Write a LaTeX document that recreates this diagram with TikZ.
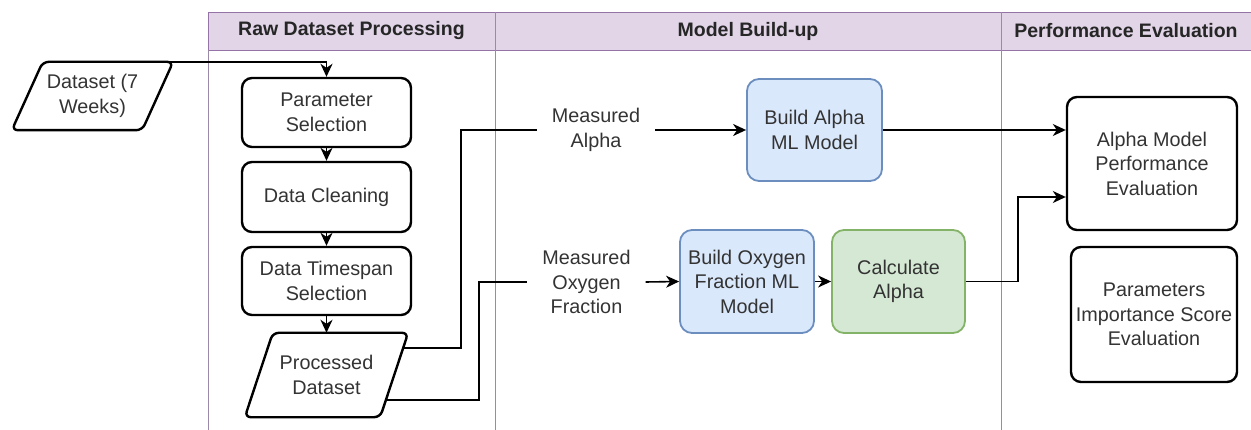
\documentclass[tikz,border=0pt]{standalone}
\usepackage{fontspec}
\setmainfont{Liberation Sans}
\usetikzlibrary{arrows.meta,calc}
\definecolor{hdrfill}{HTML}{E1D5E7}
\definecolor{hdrline}{HTML}{9673A6}
\definecolor{laneline}{HTML}{9A8AA8}
\definecolor{bluefill}{HTML}{DAE8FC}
\definecolor{blueline}{HTML}{6C8EBF}
\definecolor{greenfill}{HTML}{D5E8D4}
\definecolor{greenline}{HTML}{82B366}
\definecolor{txtcol}{HTML}{333333}
\tikzset{
  every node/.style={font=\fontsize{19.8}{24.5}\selectfont, text=txtcol, align=center, inner sep=0pt},
  hdr/.style={font=\fontsize{19.5}{24.5}\selectfont\bfseries, text=black!85},
  blackbox/.style={draw=black, line width=2.4pt, rounded corners=10pt},
  bluebox/.style={draw=blueline, fill=bluefill, line width=1.8pt, rounded corners=12pt},
  greenbox/.style={draw=greenline, fill=greenfill, line width=1.8pt, rounded corners=12pt},
  para/.style={draw=black, line width=2.4pt, rounded corners=6pt},
  lbl/.style={inner xsep=15pt, inner ysep=2pt},
  conn/.style={draw=black, line width=1.6pt},
  arr/.style={conn, -{Stealth[length=13pt,width=12pt,inset=4pt]}},
}
\begin{document}
\begin{tikzpicture}[x=1pt,y=-1pt]
\useasboundingbox (0,0) rectangle (1251,430);
% swimlanes
\fill[hdrfill] (208,12) rectangle (1251,50);
\draw[hdrline, line width=0.9pt] (1251,12) -- (208,12) -- (208,50) -- (1251,50);
\draw[laneline, line width=1pt] (208,50) -- (208,430);
\draw[laneline, line width=1pt] (495,12) -- (495,430);
\draw[laneline, line width=1pt] (1001,12) -- (1001,430);
\node[hdr] (h1) at (351.5,31) {Raw Dataset Processing};
\node[hdr] (h2) at (748,31) {Model Build-up};
\node[hdr] (h3) at (1126,31) {Performance Evaluation};

% Dataset parallelogram
\node[minimum width=161pt, minimum height=68pt] (ds) at (92.5,96) {Dataset (7\\Weeks)};
\draw[para] ($(ds.north west)+(31,0)$) -- (ds.north east) -- ($(ds.south east)+(-31,0)$) -- (ds.south west) -- cycle;

% left column
\node[blackbox, minimum width=169pt, minimum height=69pt] (ps) at (326.5,112.5) {Parameter\\Selection};
\node[blackbox, minimum width=169pt, minimum height=70pt] (dc) at (326.5,197) {Data Cleaning};
\node[blackbox, minimum width=169pt, minimum height=68pt] (ts) at (326.5,281) {Data Timespan\\Selection};
\node[minimum width=163pt, minimum height=84pt] (pd) at (326.5,375) {Processed\\Dataset};
\draw[para] ($(pd.north west)+(28,0)$) -- (pd.north east) -- ($(pd.south east)+(-28,0)$) -- (pd.south west) -- cycle;

% middle
\node[lbl] (ma) at (596,130) {Measured\\Alpha};
\node[lbl] (mo) at (586.5,282) {Measured\\Oxygen\\Fraction};
\node[bluebox, minimum width=135pt, minimum height=102pt] (ba) at (814.5,130) {Build Alpha\\ML Model};
\node[bluebox, minimum width=134pt, minimum height=103pt] (bo) at (747,281.5) {Build Oxygen\\Fraction ML\\Model};
\node[greenbox, minimum width=133pt, minimum height=103pt] (ca) at (898.5,281.5) {Calculate\\Alpha};

% right
\node[blackbox, minimum width=170pt, minimum height=133pt] (amp) at (1152,163.5) {Alpha Model\\Performance\\Evaluation};
\node[blackbox, minimum width=166pt, minimum height=135pt] (pis) at (1154,314.5) {Parameters\\Importance Score\\Evaluation};

% connectors
\coordinate (dsout) at ($(ds.north east)+(-6,0)$);
\draw[arr] (dsout) -| (ps.north);
\draw[arr] (ps.south) -- (dc.north);
\draw[arr] (dc.south) -- (ts.north);
\draw[arr] (ts.south) -- (pd.north);

\coordinate (pdA) at ($(pd.north east)+(-5,15)$);
\coordinate (pdB) at ($(pd.north east)+(-21,67)$);
\draw[conn] (pdA) -- ($(pdA)+(58,0)$) |- (ma.west);
\draw[conn] (pdB) -- ($(pdB)+(92,0)$) |- (mo.west);
\draw[arr] (ma.east) -- (ba.west);
\draw[arr] (mo.east) -- (bo.west);
\draw[arr] (bo.east) -- (ca.west);
\draw[arr] (ba.east) -- (ba.east -| amp.west);
\coordinate (ampin) at ($(amp.west)+(0,33.5)$);
\draw[arr] (ca.east) -- ($(ca.east)+(52,0)$) |- (ampin);
\end{tikzpicture}
\end{document}
